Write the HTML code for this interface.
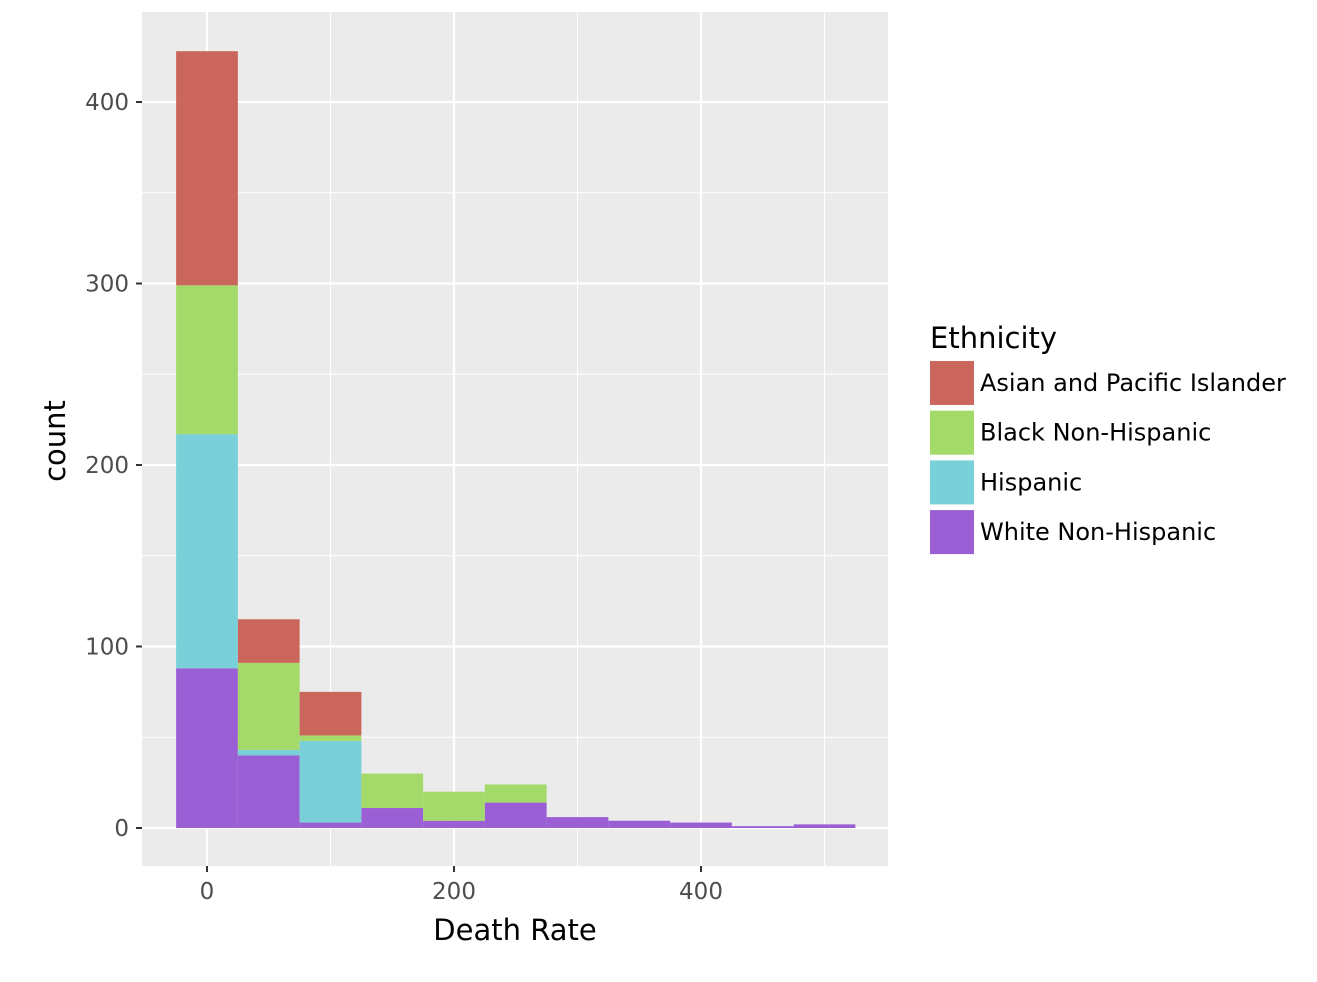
<!DOCTYPE html>
<html><head><meta charset="utf-8"><style>
body{margin:0;background:#fff;}
svg{display:block;font-family:"DejaVu Sans","Liberation Sans",sans-serif;}
</style></head><body>
<svg id="chart" width="1317" height="982">
<rect x="142" y="12" width="746" height="854" fill="#EBEBEB"/>
<g id="grid"></g><g id="bars"></g><g id="axes"></g>
<text x="515" y="940" font-size="29" text-anchor="middle" fill="#000">Death Rate</text>
<text transform="translate(65,441) rotate(-90)" font-size="29" text-anchor="middle" fill="#000">count</text>
<g id="legend">
<text x="930" y="348" font-size="29" fill="#000">Ethnicity</text>
</g>
</svg>
<script>
const binCenters=[0,50,100,150,200,250,300,350,400,450,500];
const seriesNames=["White Non-Hispanic","Hispanic","Black Non-Hispanic","Asian and Pacific Islander"];
const white=[88,40,3,11,4,14,6,4,3,1,2];
const hispanic=[129,3,45,0,0,0,0,0,0,0,0];
const black=[82,48,3,19,16,10,0,0,0,0,0];
const asian=[129,24,24,0,0,0,0,0,0,0,0];
const xTicks=[0,200,400];
const yTicks=[0,100,200,300,400];
const colors=["#9A5ED5","#7AD0D8","#A3DA6A","#CB665C"];
const NS="http://www.w3.org/2000/svg";
const X=v=>207+v*1.235, Y=v=>828-v*1.815;
function mk(tag,at,parent){const e=document.createElementNS(NS,tag);for(const k in at)e.setAttribute(k,at[k]);parent.appendChild(e);return e;}
const grid=document.getElementById('grid');
for(let v=100;v<=500;v+=200){const l=mk('line',{x1:X(v),x2:X(v),y1:12,y2:866,stroke:'#fff','stroke-width':1},grid);}
for(let v=50;v<=450;v+=100){const l=mk('line',{x1:142,x2:888,y1:Y(v),y2:Y(v),stroke:'#fff','stroke-width':1},grid);}
xTicks.forEach(v=>{const l=mk('line',{x1:X(v),x2:X(v),y1:12,y2:866,stroke:'#fff','stroke-width':2.2},grid);});
yTicks.forEach(v=>{const l=mk('line',{x1:142,x2:888,y1:Y(v),y2:Y(v),stroke:'#fff','stroke-width':2.2},grid);});
const bars=document.getElementById('bars');
const series=[white,hispanic,black,asian];
binCenters.forEach((c,i)=>{let base=0;series.forEach((s,j)=>{const v=s[i];if(v>0){const r=mk('rect',{x:X(c-25),width:X(c+25)-X(c-25),y:Y(base+v),height:Y(base)-Y(base+v),fill:colors[j]},bars);}base+=v;});});
const axes=document.getElementById('axes');
xTicks.forEach(v=>{const t=mk('line',{x1:X(v),x2:X(v),y1:866,y2:872,stroke:'#333','stroke-width':2},axes);
const tx=mk('text',{x:X(v),y:899,'font-size':23,'text-anchor':'middle',fill:'#4D4D4D'},axes);tx.textContent=v;});
yTicks.forEach(v=>{const t=mk('line',{x1:136,x2:142,y1:Y(v),y2:Y(v),stroke:'#333','stroke-width':2},axes);
const tx=mk('text',{x:129,y:Y(v)+8,'font-size':23,'text-anchor':'end',fill:'#4D4D4D'},axes);tx.textContent=v;});
const lg=document.getElementById('legend');
const legendOrder=[3,2,1,0];
legendOrder.forEach((j,k)=>{const y=361+k*49.7;
const r=mk('rect',{x:930,y:y,width:44,height:44,fill:colors[j]},lg);
const t=mk('text',{x:980,y:y+30,'font-size':24,fill:'#000'},lg);t.textContent=seriesNames[j];});
</script>
</body></html>
